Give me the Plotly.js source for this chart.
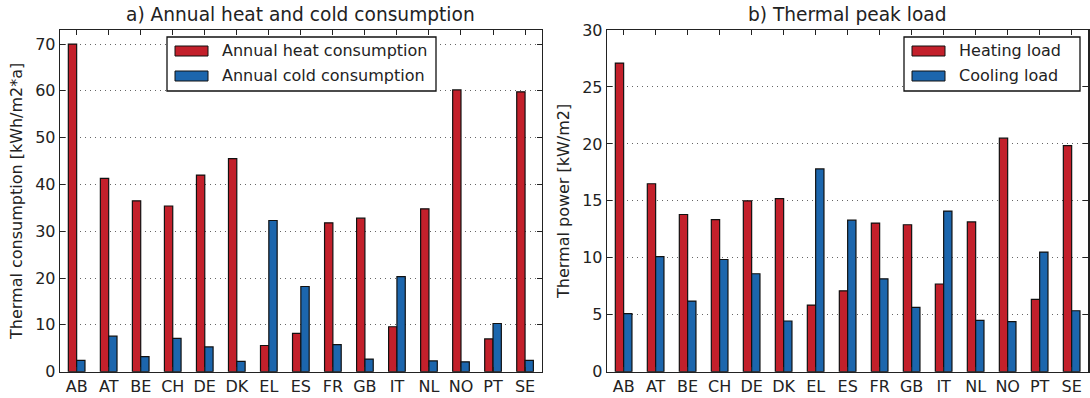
<!DOCTYPE html>
<html>
<head>
<meta charset="utf-8">
<script src="https://cdn.plot.ly/plotly-3.0.1.min.js"></script>
<style>
  html, body { margin: 0; padding: 0; background: #fff; }
  #chart { width: 1090px; height: 398px; }
</style>
</head>
<body>
<div id="chart"></div>
<script>
// Countries / regions shown on both panels
const countries = ['AB', 'AT', 'BE', 'CH', 'DE', 'DK', 'EL', 'ES', 'FR', 'GB', 'IT', 'NL', 'NO', 'PT', 'SE'];

// a) Annual consumption [kWh/m2*a]
const heatConsumption = [70.0, 41.3, 36.5, 35.4, 42.0, 45.5, 5.6, 8.2, 31.8, 32.8, 9.6, 34.8, 60.2, 7.0, 59.8];
const coldConsumption = [2.4, 7.6, 3.2, 7.1, 5.3, 2.2, 32.3, 18.2, 5.8, 2.7, 20.3, 2.3, 2.1, 10.3, 2.4];

// b) Peak load [kW/m2]
const heatingLoad = [27.1, 16.5, 13.8, 13.35, 15.0, 15.2, 5.85, 7.1, 13.05, 12.9, 7.7, 13.15, 20.5, 6.35, 19.85];
const coolingLoad = [5.1, 10.1, 6.2, 9.85, 8.6, 4.45, 17.8, 13.3, 8.15, 5.65, 14.1, 4.5, 4.4, 10.5, 5.35];

const panelTitles = ['a) Annual heat and cold consumption', 'b) Thermal peak load'];
const yTitles = ['Thermal consumption [kWh/m2*a]', 'Thermal power [kW/m2]'];
const legendA = ['Annual heat consumption', 'Annual cold consumption'];
const legendB = ['Heating load', 'Cooling load'];

const RED = '#c3202b';
const BLUE = '#1c66ad';
const FONT = 'DejaVu Sans, Liberation Sans, sans-serif';
const TXT = 16;
const W = 1090, H = 398;

const idx = countries.map((_, i) => i);
const barW = 0.26;

function barTrace(vals, color, offset, xa, ya) {
  return {
    type: 'bar',
    x: idx, y: vals,
    width: barW, offset: offset,
    xaxis: xa, yaxis: ya,
    marker: { color: color, line: { color: '#111', width: 1.2 } },
    showlegend: false,
    hoverinfo: 'x+y'
  };
}

const data = [
  barTrace(heatConsumption, RED, -barW, 'x', 'y'),
  barTrace(coldConsumption, BLUE, 0, 'x', 'y'),
  barTrace(heatingLoad, RED, -barW, 'x2', 'y2'),
  barTrace(coolingLoad, BLUE, 0, 'x2', 'y2')
];

// pixel -> paper helpers
const px = v => v / W;
const py = v => 1 - v / H;

const xCommon = {
  range: [-0.52, 14.52],
  tickmode: 'array', tickvals: idx, ticktext: countries,
  ticks: 'inside', ticklen: 5, tickwidth: 1, tickcolor: '#222',
  showline: true, linecolor: '#222', linewidth: 1.3, mirror: 'ticks',
  showgrid: false, zeroline: false,
  tickfont: { family: FONT, size: TXT, color: '#222' },
  fixedrange: true
};
const yCommon = {
  ticks: 'inside', ticklen: 5, tickwidth: 1, tickcolor: '#222',
  showline: true, linecolor: '#222', linewidth: 1.3, mirror: 'ticks',
  showgrid: true, gridcolor: '#666', gridwidth: 1, griddash: '1px,4px',
  zeroline: false,
  tickfont: { family: FONT, size: TXT, color: '#222' },
  domain: [py(371.7), py(30)],
  fixedrange: true
};

const layout = {
  width: W, height: H,
  margin: { l: 0, r: 0, t: 0, b: 0 },
  paper_bgcolor: '#fff', plot_bgcolor: '#fff',
  font: { family: FONT, color: '#222' },
  showlegend: false,
  bargap: 0,
  xaxis: Object.assign({}, xCommon, { domain: [px(60), px(541.7)], anchor: 'y' }),
  xaxis2: Object.assign({}, xCommon, { domain: [px(607), px(1088.3)], anchor: 'y2' }),
  yaxis: Object.assign({}, yCommon, {
    anchor: 'x', range: [0, 73], tickvals: [0, 10, 20, 30, 40, 50, 60, 70],
    title: { text: yTitles[0], font: { family: FONT, size: TXT, color: '#222' }, standoff: 8 }
  }),
  yaxis2: Object.assign({}, yCommon, {
    anchor: 'x2', range: [0, 30], tickvals: [0, 5, 10, 15, 20, 25, 30],
    title: { text: yTitles[1], font: { family: FONT, size: TXT, color: '#222' }, standoff: 8 }
  }),
  shapes: [],
  annotations: []
};

// Panel titles
[[60, 541.7], [607, 1088.3]].forEach((d, k) => {
  layout.annotations.push({
    xref: 'paper', yref: 'paper',
    x: px((d[0] + d[1]) / 2), y: py(15),
    xanchor: 'center', yanchor: 'middle',
    text: panelTitles[k], showarrow: false,
    font: { family: FONT, size: 18.6, color: '#222' }
  });
});

// Framed legend boxes with rectangular patches
function addLegend(box, labels) {
  layout.shapes.push({
    type: 'rect', xref: 'paper', yref: 'paper',
    x0: px(box.x0), x1: px(box.x1), y0: py(box.y1), y1: py(box.y0),
    line: { color: '#111', width: 1.3 }, fillcolor: '#fff', layer: 'above'
  });
  const rowY = [box.y0 + 14, box.y0 + 39];
  [RED, BLUE].forEach((c, i) => {
    layout.shapes.push({
      type: 'rect', xref: 'paper', yref: 'paper',
      x0: px(box.x0 + 8), x1: px(box.x0 + 41),
      y0: py(rowY[i] + 5), y1: py(rowY[i] - 5),
      line: { color: '#111', width: 1 }, fillcolor: c, layer: 'above'
    });
    layout.annotations.push({
      xref: 'paper', yref: 'paper',
      x: px(box.x0 + 53), y: py(rowY[i]),
      xanchor: 'left', yanchor: 'middle',
      text: labels[i], showarrow: false,
      font: { family: FONT, size: TXT, color: '#222' }
    });
  });
}
addLegend({ x0: 167, x1: 436, y0: 37, y1: 91 }, legendA);
addLegend({ x0: 904, x1: 1080, y0: 37, y1: 91 }, legendB);

Plotly.newPlot('chart', data, layout, { displayModeBar: false, staticPlot: true });
</script>
</body>
</html>
